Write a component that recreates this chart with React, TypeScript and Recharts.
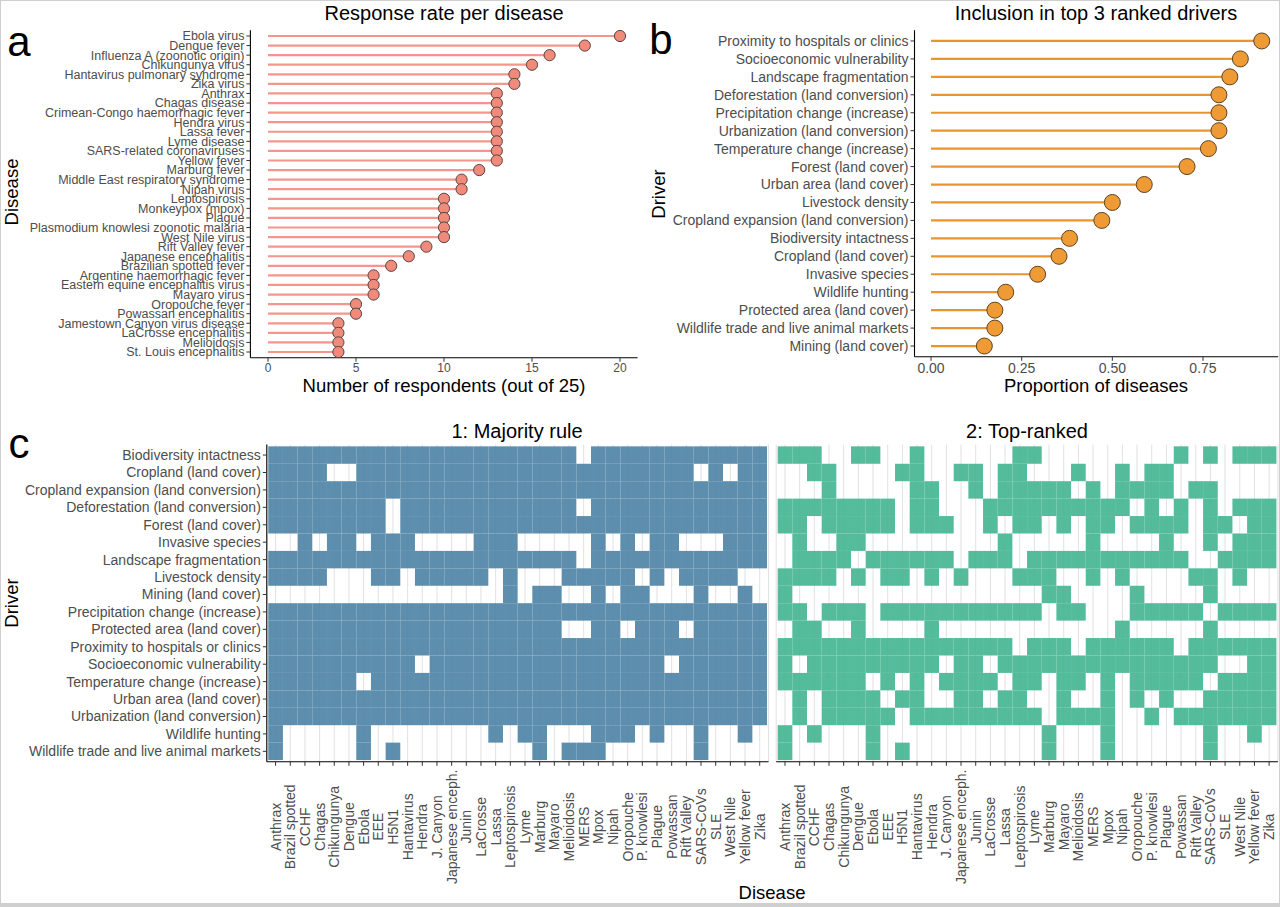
import { ScatterChart, Scatter, XAxis, YAxis, CartesianGrid, ReferenceLine } from "recharts";

const FONT = '"Liberation Sans", Arial, Helvetica, sans-serif';
const TICK_GREY = "#4d4d4d";

// panel a: respondents per disease (top to bottom)
const diseaseNames = [
  "Ebola virus", "Dengue fever", "Influenza A (zoonotic origin)", "Chikungunya virus",
  "Hantavirus pulmonary syndrome", "Zika virus", "Anthrax", "Chagas disease",
  "Crimean-Congo haemorrhagic fever", "Hendra virus", "Lassa fever", "Lyme disease",
  "SARS-related coronaviruses", "Yellow fever", "Marburg fever", "Middle East respiratory syndrome",
  "Nipah virus", "Leptospirosis", "Monkeypox (mpox)", "Plague",
  "Plasmodium knowlesi zoonotic malaria", "West Nile virus", "Rift Valley fever", "Japanese encephalitis",
  "Brazilian spotted fever", "Argentine haemorrhagic fever", "Eastern equine encephalitis virus", "Mayaro virus",
  "Oropouche fever", "Powassan encephalitis", "Jamestown Canyon virus disease", "LaCrosse encephalitis",
  "Melioidosis", "St. Louis encephalitis",
];
const respondents = [20, 18, 16, 15, 14, 14, 13, 13, 13, 13, 13, 13, 13, 13, 12, 11, 11, 10, 10, 10, 10, 10, 9, 8, 7, 6, 6, 6, 5, 5, 4, 4, 4, 4];

// panel b: share of diseases with the driver in the top 3 (top to bottom)
const driverNames = [
  "Proximity to hospitals or clinics", "Socioeconomic vulnerability", "Landscape fragmentation",
  "Deforestation (land conversion)", "Precipitation change (increase)", "Urbanization (land conversion)",
  "Temperature change (increase)", "Forest (land cover)", "Urban area (land cover)", "Livestock density",
  "Cropland expansion (land conversion)", "Biodiversity intactness", "Cropland (land cover)",
  "Invasive species", "Wildlife hunting", "Protected area (land cover)",
  "Wildlife trade and live animal markets", "Mining (land cover)",
];
const proportions = [0.912, 0.853, 0.824, 0.794, 0.794, 0.794, 0.765, 0.706, 0.588, 0.5, 0.471, 0.382, 0.353, 0.294, 0.206, 0.176, 0.176, 0.147];

// panel c: heatmap rows (drivers) and columns (diseases)
const heatDrivers = [
  "Biodiversity intactness", "Cropland (land cover)", "Cropland expansion (land conversion)",
  "Deforestation (land conversion)", "Forest (land cover)", "Invasive species", "Landscape fragmentation",
  "Livestock density", "Mining (land cover)", "Precipitation change (increase)", "Protected area (land cover)",
  "Proximity to hospitals or clinics", "Socioeconomic vulnerability", "Temperature change (increase)",
  "Urban area (land cover)", "Urbanization (land conversion)", "Wildlife hunting",
  "Wildlife trade and live animal markets",
];
const heatDiseases = [
  "Anthrax", "Brazil spotted", "CCHF", "Chagas", "Chikungunya", "Dengue", "Ebola", "EEE", "H5N1",
  "Hantavirus", "Hendra", "J. Canyon", "Japanese enceph.", "Junin", "LaCrosse", "Lassa", "Leptospirosis",
  "Lyme", "Marburg", "Mayaro", "Melioidosis", "MERS", "Mpox", "Nipah", "Oropouche", "P. knowlesi",
  "Plague", "Powassan", "Rift Valley", "SARS-CoVs", "SLE", "West Nile", "Yellow fever", "Zika",
];

// 1 = driver selected, one string per driver, one character per disease
const majorityRule = [
  "1111111111111111111110111111111111",
  "1111001111111111111111111111101011",
  "1111111111111111111111111111111111",
  "1111111101111111111110111111111111",
  "1111111101111111111111111111111111",
  "0010110111000011100000101011000111",
  "1111111111111111111110111111111111",
  "1111000110111110100011111010111100",
  "0000000000000000101100101100010010",
  "1111111111111111111111111111111111",
  "1111111111111111111100110111011111",
  "1111111111111111111111111111111111",
  "1111111111011111111111111110111111",
  "1111110111111111111111111111111111",
  "1111111111111111111111111111111111",
  "1111111111111111111111111111111111",
  "1000001000000001011000111010010010",
  "1000001010000000001011100000010000",
];
const topRanked = [
  "1110011001000000110000000001010111",
  "0011000011001101100010010110000000",
  "0001000001100101111101011110110000",
  "1111111101100011111111110101010111",
  "1101111101110010110101101111011011",
  "0100110000000001000001000010010111",
  "0111101111110111011111111111001111",
  "1111010110101000111001010000110100",
  "1000000000000000001100001000010000",
  "1101110111111111110110001111101111",
  "0110010000100000000000010000010000",
  "1111111111111111011101111110111111",
  "1011111111101101111111111111110011",
  "1111110101011110110110101111101111",
  "0101111011001101100100101010011111",
  "0101111101111111110111100101111111",
  "1010001000000000001000100000010010",
  "1000001010000000001000100000010000",
];

const rateData = diseaseNames.map((name, i) => ({ pos: i + 1, name, n: respondents[i] }));
const driverData = driverNames.map((name, i) => ({ pos: i + 1, name, p: proportions[i] }));

function toCells(matrix: string[]) {
  const out: { col: number; row: number }[] = [];
  matrix.forEach((line, r) => {
    line.split("").forEach((c, k) => {
      if (c === "1") out.push({ col: k + 1, row: r + 1 });
    });
  });
  return out;
}

const axisLine = { stroke: "#000", strokeWidth: 1.1 };
const tickLine = { stroke: "#333" };

// plain svg text so long labels never wrap
function NameTick({ x, y, payload, names, size }: any) {
  return (
    <text x={x} y={y} dy="0.355em" textAnchor="end" fontSize={size} fill={TICK_GREY} fontFamily={FONT}>
      {names[payload.value - 1]}
    </text>
  );
}

function Txt({ x, y, size, rotate = 0, color = "#000", children }: any) {
  return (
    <div
      style={{
        position: "absolute", left: x, top: y, fontFamily: FONT, fontSize: size, color,
        whiteSpace: "nowrap", lineHeight: 1,
        transform: `translate(-50%, -50%) rotate(${rotate}deg)`,
      }}
    >
      {children}
    </div>
  );
}

function RatePanel() {
  return (
    <ScatterChart width={645} height={400} margin={{ top: 30.25, right: 7.4, bottom: 2.25, left: 0 }}>
      <XAxis
        type="number" dataKey="n" domain={[-1, 21]} ticks={[0, 5, 10, 15, 20]} height={40}
        axisLine={axisLine} tickLine={tickLine} tickSize={4} tickMargin={2}
        tick={{ fontSize: 12, fill: TICK_GREY, fontFamily: FONT }}
      />
      <YAxis
        type="number" dataKey="pos" domain={[0.4, 34.6]} reversed width={250.4}
        ticks={rateData.map((d) => d.pos)} interval={0}
        axisLine={axisLine} tickLine={tickLine} tickSize={4} tickMargin={2}
        tick={<NameTick names={diseaseNames} size={12.5} />}
      />
      {rateData.map((d) => (
        <ReferenceLine
          key={d.name}
          segment={[{ x: 0, y: d.pos }, { x: d.n, y: d.pos }]}
          stroke="#F4968A" strokeWidth={2.2}
        />
      ))}
      <Scatter
        data={rateData} isAnimationActive={false}
        shape={(p: any) => <circle cx={p.cx} cy={p.cy} r={5.6} fill="#F08B7C" stroke="#5b4440" strokeWidth={1} />}
      />
    </ScatterChart>
  );
}

function DriverPanel() {
  return (
    <ScatterChart width={640} height={400} margin={{ top: 30.2, right: 1.8, bottom: 2.2, left: 0 }}>
      <XAxis
        type="number" dataKey="p" domain={[-0.0456, 0.9574]} ticks={[0, 0.25, 0.5, 0.75]} height={41}
        tickFormatter={(v: number) => v.toFixed(2)}
        axisLine={axisLine} tickLine={tickLine} tickSize={4} tickMargin={2}
        tick={{ fontSize: 14, fill: TICK_GREY, fontFamily: FONT }}
      />
      <YAxis
        type="number" dataKey="pos" domain={[0.4, 18.6]} reversed width={274.5}
        ticks={driverData.map((d) => d.pos)} interval={0}
        axisLine={axisLine} tickLine={tickLine} tickSize={4} tickMargin={2}
        tick={<NameTick names={driverNames} size={14} />}
      />
      {driverData.map((d) => (
        <ReferenceLine
          key={d.name}
          segment={[{ x: 0, y: d.pos }, { x: d.p, y: d.pos }]}
          stroke="#E8952F" strokeWidth={2.2}
        />
      ))}
      <Scatter
        data={driverData} isAnimationActive={false}
        shape={(p: any) => <circle cx={p.cx} cy={p.cy} r={8} fill="#EE9A35" stroke="#5e4323" strokeWidth={1} />}
      />
    </ScatterChart>
  );
}

const HEAT_W = 501.7;
const HEAT_H = 317.2;
const CELL_W = HEAT_W / 34.2;
const CELL_H = HEAT_H / 18.2;

function DiseaseTick({ x, y, payload }: any) {
  return (
    <text
      x={x} y={y + 59} transform={`rotate(-90, ${x}, ${y + 59})`}
      textAnchor="middle" dy="0.36em" fontSize={14} fill={TICK_GREY} fontFamily={FONT}
    >
      {heatDiseases[payload.value - 1]}
    </text>
  );
}

function HeatPanel({ matrix, color, showDrivers, width, left, right }: any) {
  return (
    <ScatterChart width={width} height={487} margin={{ top: 24.6, right, bottom: 25.2, left }}>
      <CartesianGrid horizontal={false} stroke="#e3e0e0" strokeWidth={1} />
      <XAxis
        type="number" dataKey="col" domain={[0.4, 34.6]} height={120}
        ticks={heatDiseases.map((_, i) => i + 1)} interval={0}
        axisLine={axisLine} tickLine={tickLine} tickSize={4} tickMargin={2}
        tick={<DiseaseTick />}
      />
      <YAxis
        type="number" dataKey="row" domain={[0.4, 18.6]} reversed hide={!showDrivers} width={266.8}
        ticks={heatDrivers.map((_, i) => i + 1)} interval={0}
        axisLine={axisLine} tickLine={tickLine} tickSize={4} tickMargin={2}
        tick={<NameTick names={heatDrivers} size={14} />}
      />
      <Scatter
        data={toCells(matrix)} isAnimationActive={false}
        shape={(p: any) => (
          <rect
            x={p.cx - CELL_W / 2} y={p.cy - CELL_H / 2} width={CELL_W} height={CELL_H}
            fill={color} fillOpacity={0.92}
          />
        )}
      />
    </ScatterChart>
  );
}

export default function App() {
  return (
    <div
      style={{
        position: "absolute", left: 0, top: 0, width: 1280, height: 907, background: "#fff",
        overflow: "hidden", fontFamily: FONT,
      }}
    >
      <div style={{ position: "absolute", left: 0, top: 0 }}>
        <RatePanel />
      </div>
      <div style={{ position: "absolute", left: 640, top: 0 }}>
        <DriverPanel />
      </div>
      <div style={{ position: "absolute", left: 0, top: 420 }}>
        <HeatPanel matrix={majorityRule} color="#4F84A6" showDrivers width={775} left={0} right={6.5} />
      </div>
      <div style={{ position: "absolute", left: 770, top: 420 }}>
        <HeatPanel matrix={topRanked} color="#45B592" showDrivers={false} width={510} left={6.2} right={2.1} />
      </div>

      <Txt x={19} y={42} size={42}>a</Txt>
      <Txt x={661} y={40} size={42}>b</Txt>
      <Txt x={19} y={444} size={42}>c</Txt>

      <Txt x={444} y={13} size={20}>Response rate per disease</Txt>
      <Txt x={1096} y={13} size={20}>Inclusion in top 3 ranked drivers</Txt>
      <Txt x={517} y={431} size={20}>1: Majority rule</Txt>
      <Txt x={1027} y={431} size={20}>2: Top-ranked</Txt>

      <Txt x={444} y={386} size={18.5}>Number of respondents (out of 25)</Txt>
      <Txt x={1096} y={386} size={18.5}>Proportion of diseases</Txt>
      <Txt x={12} y={192} size={18.5} rotate={-90}>Disease</Txt>
      <Txt x={659} y={194} size={18.5} rotate={-90}>Driver</Txt>
      <Txt x={12} y={603} size={18.5} rotate={-90}>Driver</Txt>
      <Txt x={772} y={893} size={18.5}>Disease</Txt>

      <div
        style={{
          position: "absolute", left: 0, top: 0, width: 1280, height: 907, boxSizing: "border-box",
          border: "1px solid #cfcfcf", borderBottom: "4px solid #cfcfcf", pointerEvents: "none",
        }}
      />
    </div>
  );
}
